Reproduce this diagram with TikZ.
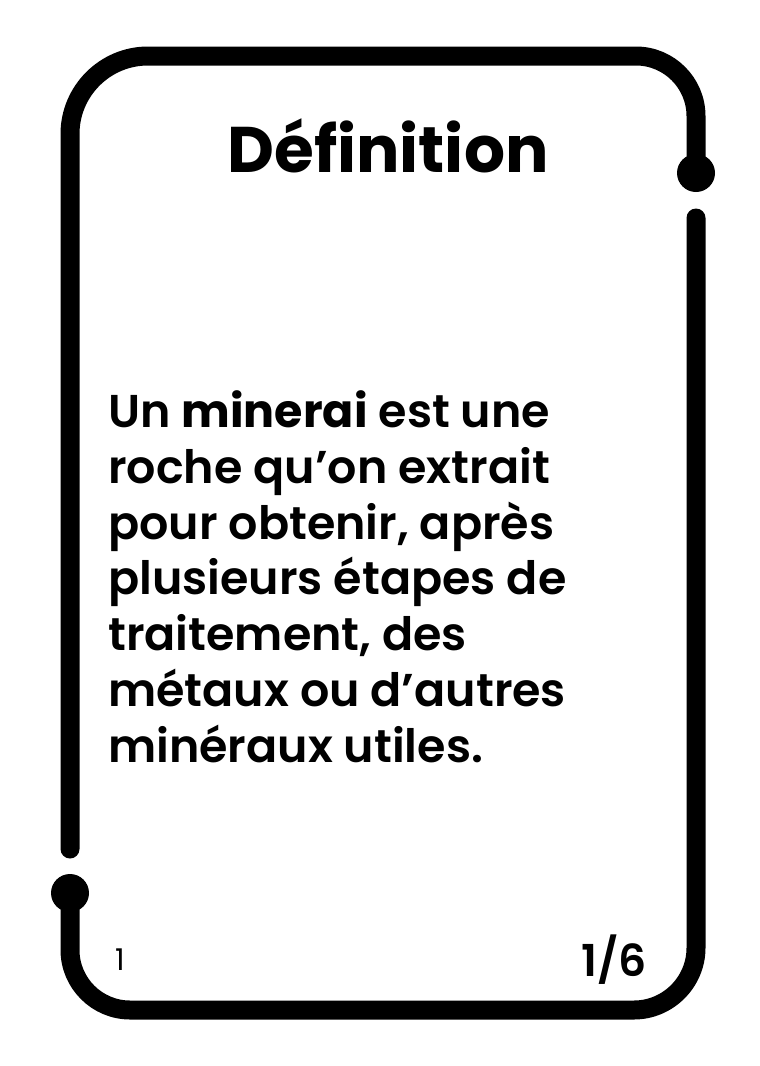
\documentclass[tikz,border=0pt]{standalone}
\usepackage{fontspec}
\setmainfont{Poppins}[UprightFont=* SemiBold, BoldFont=* Bold]
\newfontfamily\popreg{Poppins}
\newfontfamily\popbold{Poppins}[UprightFont=* Bold]
\begin{document}
\begin{tikzpicture}[x=1pt,y=-1pt,
  frame/.style={line width=19pt, line cap=round, line join=round, black},
  body/.style={anchor=base west, inner sep=0pt, font=\fontsize{46}{56}\selectfont},
  dotend/.style={circle, fill=black, minimum size=38pt, inner sep=0pt}]
\fill[white] (0,0) rectangle (760,1066);
\useasboundingbox (0,0) rectangle (760,1066);
\node[dotend] (dtr) at (696,173) {};
\node[dotend] (dbl) at (70,893) {};
\coordinate (s1) at (70,849);
\coordinate (s2) at (696,218);
\draw[frame] (s1) -- (70,134) .. controls (70,91) and (105,56) .. (148,56)
  -- (636,56) .. controls (669,56) and (696,83) .. (696,116) -- (dtr.center);
\draw[frame] (s2) -- (696,948) .. controls (696,982) and (668,1010) .. (634,1010)
  -- (130,1010) .. controls (97,1010) and (70,983) .. (70,950) -- (dbl.center);
\node[anchor=base, inner sep=0pt, font=\popbold\fontsize{64.5}{70}\selectfont] (title) at (388,172) {Définition};
\node[body] (l1) at (108,427) {Un \textbf{minerai} est une};
\node[body] (l2) at (108,483) {roche qu’on extrait};
\node[body] (l3) at (108,539) {pour obtenir, après};
\node[body] (l4) at (108,594) {plusieurs étapes de};
\node[body] (l5) at (108,650) {traitement, des};
\node[body] (l6) at (108,706) {métaux ou d’autres};
\node[body] (l7) at (108,762) {minéraux utiles.};
\node[anchor=base west, inner sep=0pt, font=\popreg\fontsize{30}{34}\selectfont] (num) at (115,970) {1};
\node[anchor=base east, inner sep=0pt, font=\fontsize{44}{50}\selectfont] (page) at (647,976) {1/6};
\end{tikzpicture}
\end{document}
